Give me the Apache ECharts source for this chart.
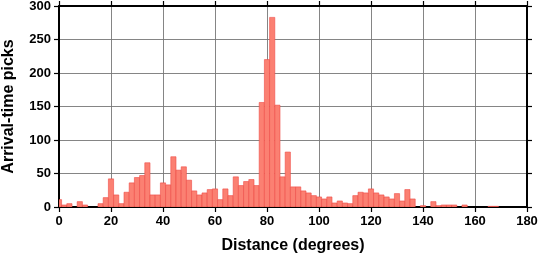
<!DOCTYPE html>
<html>
<head>
<meta charset="utf-8">
<script src="https://cdn.jsdelivr.net/npm/echarts@6/dist/echarts.min.js"></script>
<style>html,body{margin:0;padding:0;background:#fff}#c{width:539px;height:258px}</style>
</head>
<body>
<div id="c"></div>
<script>
// Bin centres (degrees), bins are 2 degrees wide
var binCenters = [];
for (var d = 0; d <= 168; d += 2) binCenters.push(d);
// Counts of arrival-time picks per bin
var picks = [
  11, 3, 5, 0, 8, 3, 0, 0, 5, 14,      // 0..18
  42, 18, 5, 22, 36, 44, 47, 66, 18, 18, // 20..38
  36, 33, 75, 55, 60, 40, 24, 18, 21, 26, // 40..58
  27, 11, 27, 17, 45, 32, 38, 41, 32, 156, // 60..78
  220, 283, 152, 45, 82, 30, 30, 24, 21, 17, // 80..98
  15, 12, 15, 6, 9, 6, 5, 17, 22, 21,    // 100..118
  27, 21, 18, 15, 12, 20, 9, 26, 12, 0,  // 120..138
  2, 0, 8, 2, 3, 3, 3, 0, 3, 0,          // 140..158
  0, 0, 0, 1, 1                          // 160..168
];
var xTicks = [0, 20, 40, 60, 80, 100, 120, 140, 160, 180];
var yTicks = [0, 50, 100, 150, 200, 250, 300];
var xTitle = 'Distance (degrees)';
var yTitle = 'Arrival-time picks';

var data = binCenters.map(function (c, i) { return [c, picks[i]]; });
var font = '"Liberation Sans", Arial, Helvetica, sans-serif';
var chart = echarts.init(document.getElementById('c'), null, {renderer: 'canvas'});
var axisLine = {show: true, onZero: false, lineStyle: {color: '#000', width: 2}};
var tick = {show: true, length: 5, lineStyle: {color: '#000', width: 1.2}};
var grid = {show: true, lineStyle: {color: '#777', width: 0.9}};
chart.setOption({
  animation: false,
  grid: {left: 59, right: 12, top: 6, bottom: 51, containLabel: false, outerBoundsMode: 'none'},
  xAxis: [{
    type: 'value', min: xTicks[0], max: xTicks[xTicks.length - 1], interval: 20, position: 'bottom',
    axisLine: axisLine, axisTick: tick, splitLine: grid,
    axisLabel: {color: '#000', fontFamily: font, fontWeight: 'bold', fontSize: 13, margin: 8},
    name: xTitle, nameLocation: 'middle', nameGap: 31,
    nameTextStyle: {color: '#000', fontFamily: font, fontWeight: 'bold', fontSize: 16}
  }, {
    type: 'value', min: xTicks[0], max: xTicks[xTicks.length - 1], interval: 20, position: 'top',
    axisLine: axisLine, axisTick: tick, splitLine: {show: false}, axisLabel: {show: false}
  }],
  yAxis: [{
    type: 'value', min: yTicks[0], max: yTicks[yTicks.length - 1], interval: 50, position: 'left',
    axisLine: axisLine, axisTick: tick, splitLine: grid,
    axisLabel: {color: '#000', fontFamily: font, fontWeight: 'bold', fontSize: 13, margin: 8},
    name: yTitle, nameLocation: 'middle', nameGap: 42, nameRotate: 90,
    nameTextStyle: {color: '#000', fontFamily: font, fontWeight: 'bold', fontSize: 16}
  }, {
    type: 'value', min: yTicks[0], max: yTicks[yTicks.length - 1], interval: 50, position: 'right',
    axisLine: axisLine, axisTick: tick, splitLine: {show: false}, axisLabel: {show: false}
  }],
  series: [{
    type: 'custom',
    xAxisIndex: 0, yAxisIndex: 0,
    data: data,
    clip: true,
    renderItem: function (params, api) {
      var c = api.value(0), v = api.value(1);
      if (!v) return null;
      var a = api.coord([Math.max(c - 1, 0), v]);
      var b = api.coord([Math.min(c + 1, 180), 0]);
      return {
        type: 'rect',
        shape: {x: a[0], y: a[1], width: b[0] - a[0], height: b[1] - a[1]},
        style: {fill: '#fb8072', stroke: '#ee4a44', lineWidth: 0.6}
      };
    },
    z: 1
  }]
});
</script>
</body>
</html>
